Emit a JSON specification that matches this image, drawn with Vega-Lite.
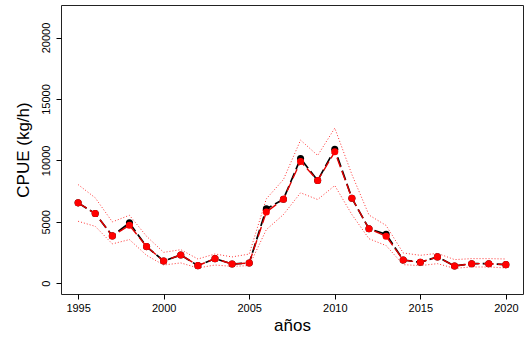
{
  "$schema": "https://vega.github.io/schema/vega-lite/v6.json",
  "width": 462,
  "height": 289,
  "autosize": {"type": "none"},
  "padding": {"left": 61, "top": 5, "right": 1, "bottom": 44},
  "background": "white",
  "config": {
    "font": "Liberation Sans",
    "view": {"stroke": "#222", "strokeWidth": 1},
    "axis": {
      "grid": false,
      "domain": false,
      "tickColor": "#000",
      "tickSize": 5,
      "labelFont": "Liberation Sans",
      "labelFontSize": 11,
      "labelColor": "#000",
      "titleFont": "Liberation Sans",
      "titleFontSize": 17,
      "titleFontWeight": "normal",
      "titleColor": "#000"
    }
  },
  "data": {
    "values": [
      {"year": 1995, "obs": 6540, "est": 6540, "lo": 5040, "hi": 8030},
      {"year": 1996, "obs": 5670, "est": 5670, "lo": 4630, "hi": 6950},
      {"year": 1997, "obs": 3850, "est": 3850, "lo": 3200, "hi": 4990},
      {"year": 1998, "obs": 4910, "est": 4715, "lo": 3550, "hi": 5530},
      {"year": 1999, "obs": 2980, "est": 2980, "lo": 2270, "hi": 3820},
      {"year": 2000, "obs": 1810, "est": 1810, "lo": 1480, "hi": 2510},
      {"year": 2001, "obs": 2300, "est": 2300, "lo": 1650, "hi": 2730},
      {"year": 2002, "obs": 1430, "est": 1430, "lo": 1240, "hi": 1970},
      {"year": 2003, "obs": 2000, "est": 2000, "lo": 1480, "hi": 2380},
      {"year": 2004, "obs": 1560, "est": 1560, "lo": 1370, "hi": 2140},
      {"year": 2005, "obs": 1650, "est": 1650, "lo": 1430, "hi": 2370},
      {"year": 2006, "obs": 6050, "est": 5790, "lo": 4360, "hi": 6870},
      {"year": 2007, "obs": 6840, "est": 6840, "lo": 5590, "hi": 8440},
      {"year": 2008, "obs": 10150, "est": 9910, "lo": 7360, "hi": 11650},
      {"year": 2009, "obs": 8360, "est": 8360, "lo": 6810, "hi": 10400},
      {"year": 2010, "obs": 10910, "est": 10700, "lo": 7950, "hi": 12630},
      {"year": 2011, "obs": 6920, "est": 6920, "lo": 5590, "hi": 8850},
      {"year": 2012, "obs": 4430, "est": 4430, "lo": 3620, "hi": 5550},
      {"year": 2013, "obs": 3980, "est": 3820, "lo": 3060, "hi": 4700},
      {"year": 2014, "obs": 1890, "est": 1890, "lo": 1510, "hi": 2460},
      {"year": 2015, "obs": 1700, "est": 1700, "lo": 1430, "hi": 2270},
      {"year": 2016, "obs": 2140, "est": 2140, "lo": 1590, "hi": 2430},
      {"year": 2017, "obs": 1400, "est": 1400, "lo": 1210, "hi": 1920},
      {"year": 2018, "obs": 1590, "est": 1590, "lo": 1320, "hi": 2000},
      {"year": 2019, "obs": 1590, "est": 1590, "lo": 1320, "hi": 2000},
      {"year": 2020, "obs": 1510, "est": 1510, "lo": 1240, "hi": 1970}
    ]
  },
  "encoding": {
    "x": {
      "field": "year",
      "type": "quantitative",
      "scale": {"domain": [1994, 2021], "nice": false, "zero": false},
      "axis": {
        "values": [1995, 2000, 2005, 2010, 2015, 2020],
        "format": "d",
        "title": "años",
        "labelPadding": 3,
        "titlePadding": 4
      }
    }
  },
  "layer": [
    {
      "mark": {"type": "line", "color": "#ff0000", "strokeWidth": 1, "strokeDash": [1, 2], "opacity": 0.8},
      "encoding": {
        "y": {
          "field": "hi",
          "type": "quantitative",
          "scale": {"domain": [-880, 22650], "nice": false, "zero": false},
          "axis": {
            "values": [0, 5000, 10000, 15000, 20000],
            "format": "d",
            "title": "CPUE (kg/h)",
            "labelAngle": -90,
            "labelAlign": "center",
            "labelBaseline": "bottom",
            "labelPadding": 5,
            "titlePadding": 8
          }
        }
      }
    },
    {
      "mark": {"type": "line", "color": "#ff0000", "strokeWidth": 1, "strokeDash": [1, 2], "opacity": 0.8},
      "encoding": {"y": {"field": "lo", "type": "quantitative"}}
    },
    {
      "mark": {"type": "line", "color": "#000000", "strokeWidth": 1.7, "strokeDash": [10, 4]},
      "encoding": {"y": {"field": "obs", "type": "quantitative"}}
    },
    {
      "mark": {"type": "circle", "color": "#000000", "opacity": 1, "size": 50},
      "encoding": {"y": {"field": "obs", "type": "quantitative"}}
    },
    {
      "mark": {"type": "line", "color": "#e00000", "strokeWidth": 1.4, "strokeDash": [10, 4]},
      "encoding": {"y": {"field": "est", "type": "quantitative"}}
    },
    {
      "mark": {"type": "circle", "color": "#ff0000", "opacity": 1, "size": 50},
      "encoding": {"y": {"field": "est", "type": "quantitative"}}
    }
  ]
}
